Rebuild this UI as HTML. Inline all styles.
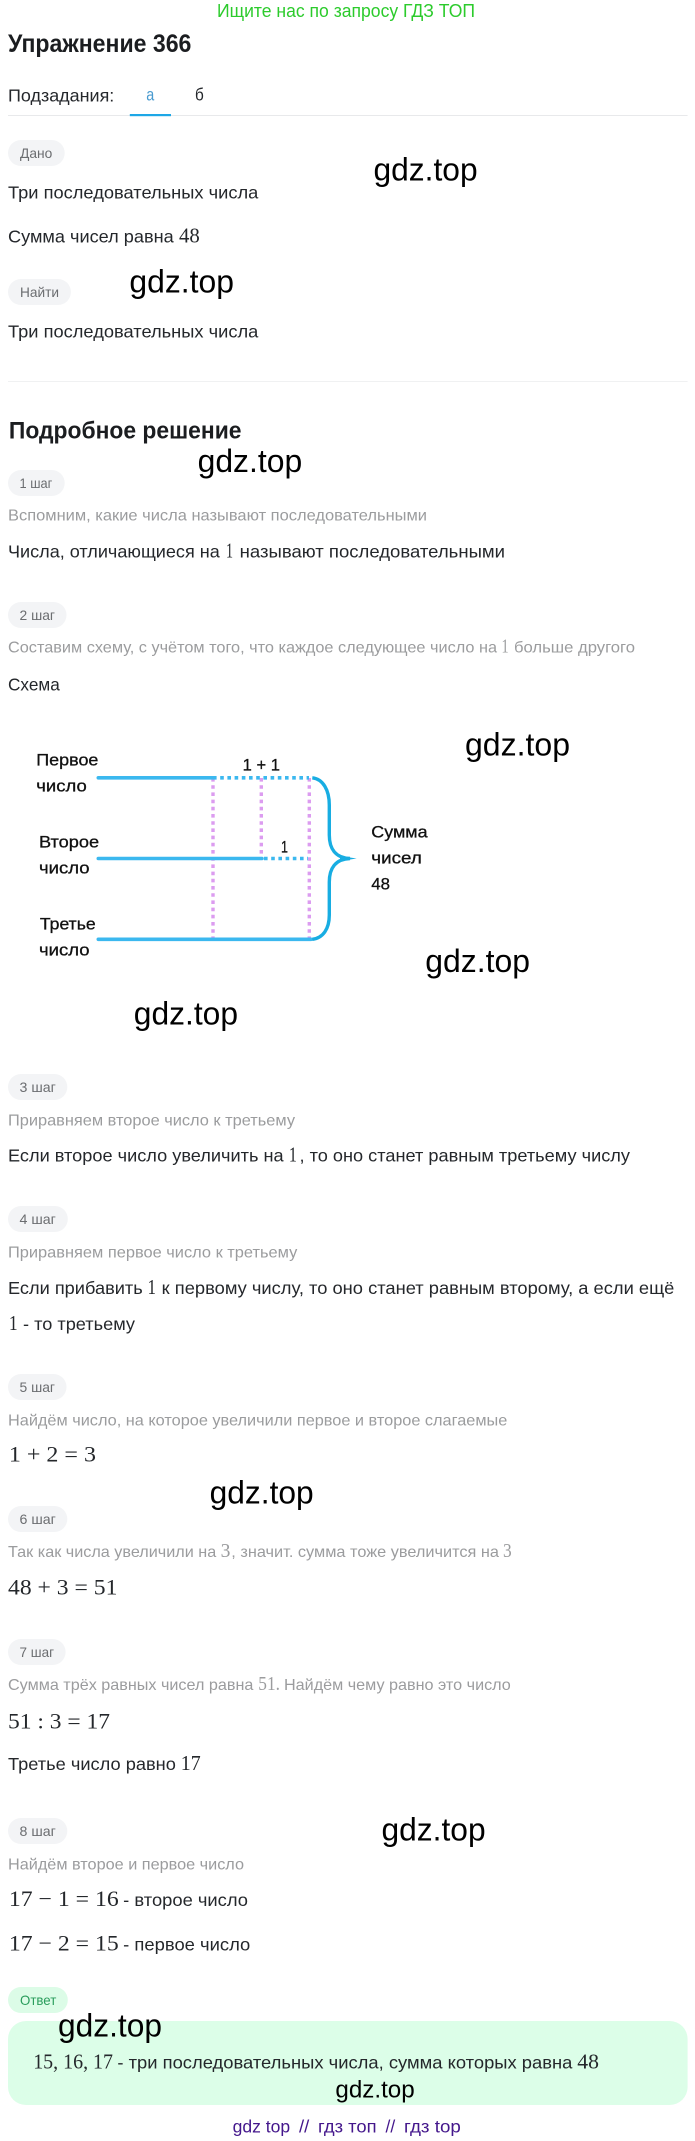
<!DOCTYPE html>
<html lang="ru">
<head>
<meta charset="utf-8">
<title>Упражнение 366</title>
<style>
html,body{margin:0;padding:0;background:#fff}
svg{display:block}
text{font-family:"Liberation Sans",sans-serif;white-space:pre}
.t{font-size:17.5px;fill:#24272b}
.g{font-size:16px;fill:#9b9c9e}
.p{font-size:14px;fill:#6b6d70}
.m{font-family:"Liberation Serif",serif;font-size:21px;fill:#24272b}
.e{font-family:"Liberation Serif",serif;font-size:22px;fill:#24272b}
.mg{font-family:"Liberation Serif",serif;font-size:20px;fill:#9b9c9e}
.w{font-size:32px;fill:#000}
.h{font-weight:700;fill:#1b1d20}
.s{font-size:16.5px;fill:#111;stroke:#111;stroke-width:.3}
.f{font-size:17.5px;fill:#44178c}
.pill{fill:#f3f4f6}
</style>
</head>
<body>
<svg xmlns="http://www.w3.org/2000/svg" width="695" height="2141" viewBox="0 0 695 2141">
<rect width="695" height="2141" fill="#fff"/>

<text x="217" y="17" font-size="18.5" fill="#2ccb2c" textLength="258" lengthAdjust="spacingAndGlyphs">Ищите нас по запросу ГДЗ ТОП</text>
<text x="8" y="52" class="h" font-size="25" textLength="183.4" lengthAdjust="spacingAndGlyphs">Упражнение 366</text>
<text x="8" y="101.5" class="t" textLength="106.3" lengthAdjust="spacingAndGlyphs">Подзадания:</text>
<text x="146.2" y="100.5" class="t" style="fill:#4a9bd0" textLength="8" lengthAdjust="spacingAndGlyphs">а</text>
<text x="195" y="100.5" class="t" textLength="8.8" lengthAdjust="spacingAndGlyphs">б</text>
<rect x="8" y="115" width="679.6" height="1" fill="#e8e9eb"/>
<rect x="129.8" y="114" width="41.2" height="2.2" fill="#1ea7e6"/>

<rect class="pill" x="8" y="140" width="56.7" height="26" rx="13"/>
<text x="20" y="158" class="p" textLength="32.3" lengthAdjust="spacingAndGlyphs">Дано</text>
<text x="8" y="198.3" class="t" textLength="250.3" lengthAdjust="spacingAndGlyphs">Три последовательных числа</text>
<text x="8" y="242.7" class="t" textLength="165.7" lengthAdjust="spacingAndGlyphs">Сумма чисел равна</text>
<text x="179" y="242.7" class="m" textLength="20.8" lengthAdjust="spacingAndGlyphs">48</text>
<rect class="pill" x="8" y="279" width="62.9" height="26" rx="13"/>
<text x="20" y="297" class="p" textLength="39" lengthAdjust="spacingAndGlyphs">Найти</text>
<text x="8" y="337.3" class="t" textLength="250.3" lengthAdjust="spacingAndGlyphs">Три последовательных числа</text>
<rect x="8" y="381" width="679.6" height="1" fill="#f0f1f2"/>

<text x="8.9" y="438.3" class="h" font-size="24" textLength="232.6" lengthAdjust="spacingAndGlyphs">Подробное решение</text>

<rect class="pill" x="8" y="470" width="56.7" height="26" rx="13"/>
<text x="19.5" y="488" class="p" textLength="32.8" lengthAdjust="spacingAndGlyphs">1 шаг</text>
<text x="8" y="520.7" class="g" textLength="419" lengthAdjust="spacingAndGlyphs">Вспомним, какие числа называют последовательными</text>
<text x="8" y="557.7" class="t" textLength="211.8" lengthAdjust="spacingAndGlyphs">Числа, отличающиеся на</text>
<text x="226" y="557.7" class="m" textLength="7" lengthAdjust="spacingAndGlyphs">1</text>
<text x="239.7" y="557.7" class="t" textLength="265.3" lengthAdjust="spacingAndGlyphs">называют последовательными</text>

<rect class="pill" x="8" y="602" width="58.5" height="26" rx="13"/>
<text x="19.5" y="620" class="p" textLength="35.5" lengthAdjust="spacingAndGlyphs">2 шаг</text>
<text x="8" y="652.7" class="g" textLength="489" lengthAdjust="spacingAndGlyphs">Составим схему, с учётом того, что каждое следующее число на</text>
<text x="501.5" y="652.7" class="mg" textLength="7.1" lengthAdjust="spacingAndGlyphs">1</text>
<text x="514" y="652.7" class="g" textLength="121" lengthAdjust="spacingAndGlyphs">больше другого</text>
<text x="8" y="690.7" class="t" textLength="51.8" lengthAdjust="spacingAndGlyphs">Схема</text>

<!-- scheme -->
<g fill="none">
  <path d="M213 778V939M261.3 778V858M309.3 778V939" stroke="#dc9cf0" stroke-width="3.4" stroke-dasharray="3.6 3.6"/>
  <path d="M98.3 777.8H213M98.3 858.5H262M98.3 939.3H311" stroke="#3bb8ef" stroke-width="3.6" stroke-linecap="round"/>
  <path d="M213 777.8H309M264 858.5H308" stroke="#3bb8ef" stroke-width="3.6" stroke-dasharray="3.6 3.6"/>
  <path d="M312.3 777.8C323 779 329.3 790 329.3 805V835C329.3 848 335 858 350 858.5C335 859 329.3 869 329.3 882V915C329.3 929 323 938 312.3 939.3" stroke="#18ade2" stroke-width="3.4"/>
</g>
<path d="M340 856L356.7 858.5L340 861Z" fill="#18ade2"/>
<text x="36.3" y="765.7" class="s" textLength="62.1" lengthAdjust="spacingAndGlyphs">Первое</text>
<text x="36.3" y="791.7" class="s" textLength="50.5" lengthAdjust="spacingAndGlyphs">число</text>
<text x="39" y="847.7" class="s" textLength="60.2" lengthAdjust="spacingAndGlyphs">Второе</text>
<text x="39" y="873.7" class="s" textLength="50.5" lengthAdjust="spacingAndGlyphs">число</text>
<text x="39.9" y="929.7" class="s" textLength="55.8" lengthAdjust="spacingAndGlyphs">Третье</text>
<text x="39" y="955.7" class="s" textLength="50.5" lengthAdjust="spacingAndGlyphs">число</text>
<text x="242.7" y="770.7" class="s" textLength="37.3" lengthAdjust="spacingAndGlyphs">1 + 1</text>
<text x="281" y="852.7" class="s" textLength="7" lengthAdjust="spacingAndGlyphs">1</text>
<text x="371.3" y="837.7" class="s" textLength="56.3" lengthAdjust="spacingAndGlyphs">Сумма</text>
<text x="371.3" y="863.7" class="s" textLength="50.5" lengthAdjust="spacingAndGlyphs">чисел</text>
<text x="371.3" y="889.3" class="s" textLength="18.7" lengthAdjust="spacingAndGlyphs">48</text>

<rect class="pill" x="8" y="1074" width="59.3" height="26" rx="13"/>
<text x="19.5" y="1092" class="p" textLength="36.3" lengthAdjust="spacingAndGlyphs">3 шаг</text>
<text x="8" y="1125.3" class="g" textLength="287" lengthAdjust="spacingAndGlyphs">Приравняем второе число к третьему</text>
<text x="8" y="1161.7" class="t" textLength="275.6" lengthAdjust="spacingAndGlyphs">Если второе число увеличить на</text>
<text x="288.9" y="1161.7" class="m" textLength="8" lengthAdjust="spacingAndGlyphs">1</text>
<text x="299.5" y="1161.7" class="t" textLength="330.5" lengthAdjust="spacingAndGlyphs">, то оно станет равным третьему числу</text>

<rect class="pill" x="8" y="1206" width="59.8" height="26" rx="13"/>
<text x="19.5" y="1224" class="p" textLength="36.3" lengthAdjust="spacingAndGlyphs">4 шаг</text>
<text x="8" y="1257.3" class="g" textLength="289.3" lengthAdjust="spacingAndGlyphs">Приравняем первое число к третьему</text>
<text x="8" y="1294" class="t" textLength="134.7" lengthAdjust="spacingAndGlyphs">Если прибавить</text>
<text x="147.5" y="1294" class="m" textLength="8.5" lengthAdjust="spacingAndGlyphs">1</text>
<text x="161.7" y="1294" class="t" textLength="512.7" lengthAdjust="spacingAndGlyphs">к первому числу, то оно станет равным второму, а если ещё</text>
<text x="8.9" y="1330" class="m" textLength="8.8" lengthAdjust="spacingAndGlyphs">1</text>
<text x="23" y="1330" class="t" textLength="112" lengthAdjust="spacingAndGlyphs">- то третьему</text>

<rect class="pill" x="8" y="1374" width="58.5" height="26" rx="13"/>
<text x="19.5" y="1392" class="p" textLength="35.5" lengthAdjust="spacingAndGlyphs">5 шаг</text>
<text x="8" y="1425.3" class="g" textLength="499.3" lengthAdjust="spacingAndGlyphs">Найдём число, на которое увеличили первое и второе слагаемые</text>
<text x="8.9" y="1461.3" class="e" textLength="87.1" lengthAdjust="spacingAndGlyphs">1 + 2 = 3</text>

<rect class="pill" x="8" y="1506" width="59.3" height="26" rx="13"/>
<text x="19.5" y="1524" class="p" textLength="36.3" lengthAdjust="spacingAndGlyphs">6 шаг</text>
<text x="8" y="1557" class="g" textLength="208.2" lengthAdjust="spacingAndGlyphs">Так как числа увеличили на</text>
<text x="220.6" y="1557" class="mg" textLength="9.8" lengthAdjust="spacingAndGlyphs">3</text>
<text x="231.3" y="1557" class="g" textLength="267.7" lengthAdjust="spacingAndGlyphs">, значит. сумма тоже увеличится на</text>
<text x="503" y="1557" class="mg" textLength="8.7" lengthAdjust="spacingAndGlyphs">3</text>
<text x="8" y="1594.7" class="e" textLength="109.4" lengthAdjust="spacingAndGlyphs">48 + 3 = 51</text>

<rect class="pill" x="8" y="1639" width="57.6" height="26" rx="13"/>
<text x="19.5" y="1657" class="p" textLength="34.5" lengthAdjust="spacingAndGlyphs">7 шаг</text>
<text x="8" y="1690" class="g" textLength="245.4" lengthAdjust="spacingAndGlyphs">Сумма трёх равных чисел равна</text>
<text x="258.3" y="1690" class="mg" textLength="21.7" lengthAdjust="spacingAndGlyphs">51.</text>
<text x="284" y="1690" class="g" textLength="226.8" lengthAdjust="spacingAndGlyphs">Найдём чему равно это число</text>
<text x="8" y="1728.3" class="e" textLength="102" lengthAdjust="spacingAndGlyphs">51 : 3 = 17</text>
<text x="8" y="1770" class="t" textLength="167.9" lengthAdjust="spacingAndGlyphs">Третье число равно</text>
<text x="180.8" y="1770" class="m" textLength="19.9" lengthAdjust="spacingAndGlyphs">17</text>

<rect class="pill" x="8" y="1818" width="59.3" height="26" rx="13"/>
<text x="19.5" y="1836" class="p" textLength="36.3" lengthAdjust="spacingAndGlyphs">8 шаг</text>
<text x="8" y="1869.3" class="g" textLength="236" lengthAdjust="spacingAndGlyphs">Найдём второе и первое число</text>
<text x="8.9" y="1906" class="e" textLength="109.8" lengthAdjust="spacingAndGlyphs">17 − 1 = 16</text>
<text x="123.2" y="1906" class="t" textLength="124.8" lengthAdjust="spacingAndGlyphs">- второе число</text>
<text x="8.9" y="1950.7" class="e" textLength="109.8" lengthAdjust="spacingAndGlyphs">17 − 2 = 15</text>
<text x="123.2" y="1950.7" class="t" textLength="127.1" lengthAdjust="spacingAndGlyphs">- первое число</text>

<rect x="8" y="1987" width="59.8" height="26" rx="13" fill="#dcfce7"/>
<text x="20" y="2005" class="p" style="fill:#2a9d5c" textLength="36.3" lengthAdjust="spacingAndGlyphs">Ответ</text>
<rect x="8" y="2021" width="679.6" height="84" rx="18" fill="#dcfee8"/>
<text x="33.2" y="2068.3" class="m" textLength="79.8" lengthAdjust="spacingAndGlyphs">15, 16, 17</text>
<text x="117.4" y="2068.3" class="t" textLength="455" lengthAdjust="spacingAndGlyphs">- три последовательных числа, сумма которых равна</text>
<text x="577.3" y="2068.3" class="m" textLength="21.7" lengthAdjust="spacingAndGlyphs">48</text>

<text x="232.6" y="2132.7" class="f" textLength="57.6" lengthAdjust="spacingAndGlyphs">gdz top</text>
<text x="299" y="2132.7" class="f" textLength="10.3" lengthAdjust="spacingAndGlyphs">//</text>
<text x="318" y="2132.7" class="f" textLength="58.6" lengthAdjust="spacingAndGlyphs">гдз топ</text>
<text x="385.5" y="2132.7" class="f" textLength="9.7" lengthAdjust="spacingAndGlyphs">//</text>
<text x="404" y="2132.7" class="f" textLength="56.8" lengthAdjust="spacingAndGlyphs">гдз top</text>

<!-- watermarks -->
<text x="373.5" y="180.5" class="w" textLength="104.1" lengthAdjust="spacingAndGlyphs">gdz.top</text>
<text x="129.4" y="292.5" class="w" textLength="104.6" lengthAdjust="spacingAndGlyphs">gdz.top</text>
<text x="197.6" y="472" class="w" textLength="104.6" lengthAdjust="spacingAndGlyphs">gdz.top</text>
<text x="465" y="755.5" class="w" textLength="105" lengthAdjust="spacingAndGlyphs">gdz.top</text>
<text x="425.3" y="972" class="w" textLength="104.7" lengthAdjust="spacingAndGlyphs">gdz.top</text>
<text x="133.8" y="1024.5" class="w" textLength="104.2" lengthAdjust="spacingAndGlyphs">gdz.top</text>
<text x="209.6" y="1503.5" class="w" textLength="104.1" lengthAdjust="spacingAndGlyphs">gdz.top</text>
<text x="381.5" y="1840.5" class="w" textLength="104.1" lengthAdjust="spacingAndGlyphs">gdz.top</text>
<text x="58" y="2036.5" class="w" textLength="104" lengthAdjust="spacingAndGlyphs">gdz.top</text>
<text x="335.4" y="2097.5" class="w" style="font-size:24px" textLength="79.3" lengthAdjust="spacingAndGlyphs">gdz.top</text>
</svg>
</body>
</html>
